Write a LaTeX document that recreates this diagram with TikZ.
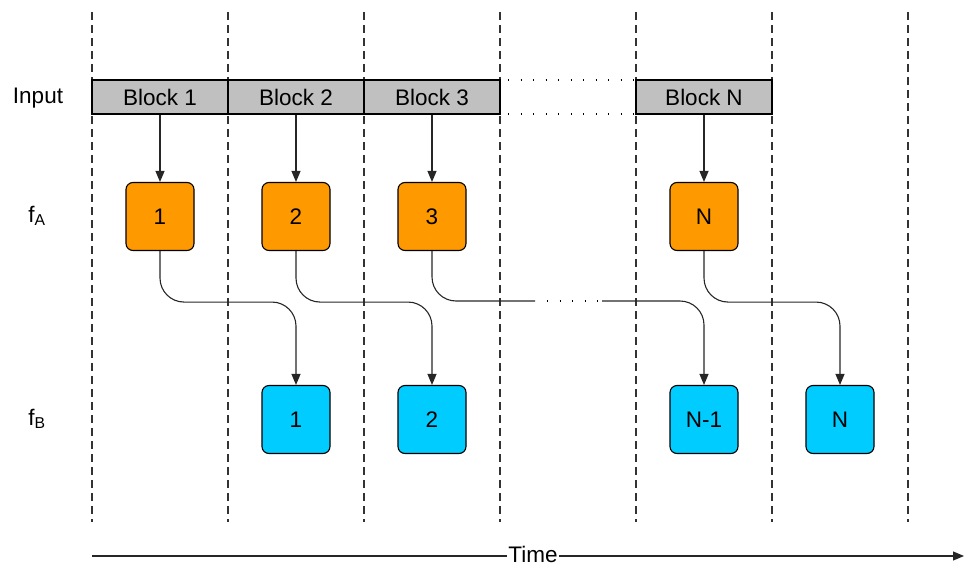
\documentclass[tikz,border=0pt]{standalone}
\usepackage{fontspec}
\setmainfont{Liberation Sans}
\usetikzlibrary{arrows.meta}
\definecolor{oran}{HTML}{FF9900}
\definecolor{cyanb}{HTML}{00CCFF}
\definecolor{grayb}{HTML}{C0C0C0}
\begin{document}
\begin{tikzpicture}[x=1pt,y=-1pt,
  font=\fontsize{22.5}{26}\selectfont,
  blk/.style={draw=black, fill=grayb, minimum width=136pt, minimum height=34pt, inner sep=0pt, line width=1.1pt},
  fa/.style={draw=black, fill=oran, rounded corners=7pt, minimum width=68pt, minimum height=68pt, inner sep=0pt, line width=1.1pt},
  fb/.style={draw=black, fill=cyanb, rounded corners=7pt, minimum width=68pt, minimum height=68pt, inner sep=0pt, line width=1.1pt},
  gridl/.style={draw=black!80, dash pattern=on 8pt off 5pt, line width=1.1pt},
  dots/.style={draw=black, dash pattern=on 1.2pt off 11.3pt, line width=1.1pt},
  conn/.style={draw=black!85, line width=1.1pt, -{Triangle[length=11pt,width=9pt]}},
  curv/.style={conn, rounded corners=24pt},
  lbl/.style={inner sep=0pt}
]
\useasboundingbox (0,0) rectangle (964,565);

% vertical dashed time lines
\foreach \i/\x in {0/92,1/228,2/364,3/500,4/636,5/772,6/908}{
  \coordinate (gt\i) at (\x,12);
  \coordinate (gb\i) at (\x,522);
  \draw[gridl] (gt\i) -- (gb\i);
}

% input row
\node[lbl] (inp) at (38,98) {Input};
\node[blk] (b1) at (160,97) {Block 1};
\node[blk] (b2) at (296,97) {Block 2};
\node[blk] (b3) at (432,97) {Block 3};
\node[blk] (bN) at (704,97) {Block N};
\coordinate (dt1) at (508,80);
\coordinate (dt2) at (636,80);
\coordinate (db1) at (508,114);
\coordinate (db2) at (636,114);
\draw[dots] (dt1) -- (dt2);
\draw[dots] (db1) -- (db2);

% f_A row
\node[lbl] (fal) at (37,216) {f\textsubscript{A}};
\node[fa] (a1) at (160,216.5) {1};
\node[fa] (a2) at (296,216.5) {2};
\node[fa] (a3) at (432,216.5) {3};
\node[fa] (aN) at (704,216.5) {N};

% f_B row
\node[lbl] (fbl) at (37,419) {f\textsubscript{B}};
\node[fb] (c1) at (296,419.5) {1};
\node[fb] (c2) at (432,419.5) {2};
\node[fb] (cN1) at (704,419.5) {N-1};
\node[fb] (cN) at (840,419.5) {N};

% block to f_A
\draw[conn] (b1.south) -- (a1.north);
\draw[conn] (b2.south) -- (a2.north);
\draw[conn] (b3.south) -- (a3.north);
\draw[conn] (bN.south) -- (aN.north);

% f_A to f_B
\draw[curv] (a1.south) -- ++(0,51) -| (c1.north);
\draw[curv] (a2.south) -- ++(0,51) -| (c2.north);
\draw[curv] (aN.south) -- ++(0,51) -| (cN.north);
\coordinate (h1) at (535,301);
\coordinate (h2) at (602,301);
\draw[draw=black!85, line width=1.1pt, rounded corners=24pt] (a3.south) |- (h1);
\draw[dots] (h1) ++(12,0) -- (h2);
\draw[curv] (h2) -| (cN1.north);

% time axis
\coordinate (ts) at (92,556);
\coordinate (te) at (964,556);
\draw[conn] (ts) -- (te);
\node[fill=white, inner ysep=0pt, inner xsep=1.5pt, anchor=base] (time) at (533,562) {Time};
\end{tikzpicture}
\end{document}
